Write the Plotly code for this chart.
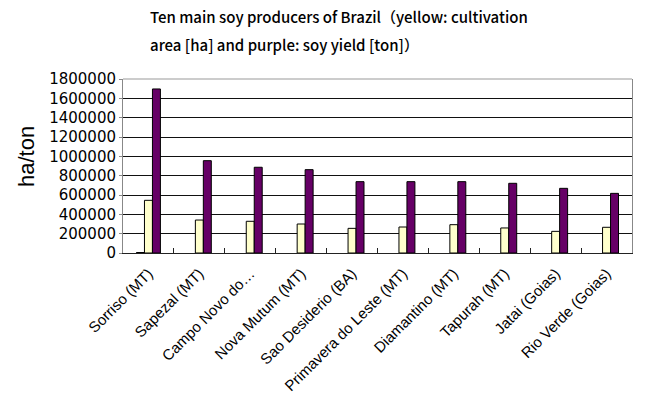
import plotly.graph_objects as go

categories = ["Sorriso (MT)", "Sapezal (MT)", "Campo Novo do…", "Nova Mutum (MT)",
              "Sao Desiderio (BA)", "Primavera do Leste (MT)", "Diamantino (MT)",
              "Tapurah (MT)", "Jatai (Goias)", "Rio Verde (Goias)"]
other = [5000, None, None, None, None, None, None, None, None, None]
area_ha = [545000, 341000, 328000, 300000, 255000, 269000, 293000, 259000, 224000, 266000]
yield_ton = [1697000, 955000, 887000, 862000, 738000, 738000, 738000, 721000, 669000, 617000]
y_ticks = [0, 200000, 400000, 600000, 800000, 1000000, 1200000, 1400000, 1600000, 1800000]

fig = go.Figure()
fig.add_trace(go.Bar(x=categories, y=other, marker=dict(color="#000066", line=dict(color="black", width=1))))
fig.add_trace(go.Bar(x=categories, y=area_ha, marker=dict(color="#FFFFCC", line=dict(color="black", width=1))))
fig.add_trace(go.Bar(x=categories, y=yield_ton, marker=dict(color="#660066", line=dict(color="black", width=1))))

fig.update_layout(
    width=660, height=402,
    margin=dict(l=123, r=28, t=79, b=149),
    paper_bgcolor="white", plot_bgcolor="white",
    barmode="group", bargap=0.53, bargroupgap=0,
    showlegend=False,
    font=dict(family="Arial, Liberation Sans", color="black"),
)
fig.update_xaxes(
    showline=True, linecolor="#222", linewidth=1,
    ticks="inside", tickson="boundaries", ticklen=5, tickcolor="#222",
    tickangle=-45, tickfont=dict(size=15, family="Arial, Liberation Sans"),
    ticklabelstandoff=5, automargin=False,
    showgrid=False,
)
fig.update_yaxes(
    range=[0, 1800000], tickvals=y_ticks, tickformat="d",
    showline=True, linecolor="#888", linewidth=1, mirror=True,
    ticks="outside", ticklen=3, tickcolor="#888",
    gridcolor="#111", gridwidth=1, automargin=False,
    tickfont=dict(size=15, family="DejaVu Sans"),
)
fig.add_shape(type="line", xref="paper", yref="paper", x0=0, x1=1, y0=1, y1=1,
              line=dict(color="#999", width=1))
fig.add_annotation(text="ha/ton", xref="paper", yref="paper",
                   x=(26 - 123) / 509, y=(253 - 157) / 174, textangle=-90,
                   showarrow=False, font=dict(size=22, family="Arial, Liberation Sans"),
                   xanchor="center", yanchor="middle")
fig.add_annotation(text="Ten main soy producers of Brazil（yellow: cultivation",
                   xref="paper", yref="paper", x=(148 - 123) / 509, y=(253 - 16) / 174,
                   showarrow=False, xanchor="left", yanchor="middle",
                   font=dict(size=15, family="Noto Sans CJK JP", weight=500))
fig.add_annotation(text="area [ha] and purple: soy yield [ton]）",
                   xref="paper", yref="paper", x=(148 - 123) / 509, y=(253 - 45) / 174,
                   showarrow=False, xanchor="left", yanchor="middle",
                   font=dict(size=15, family="Noto Sans CJK JP", weight=500))

fig.write_html("out.html")
